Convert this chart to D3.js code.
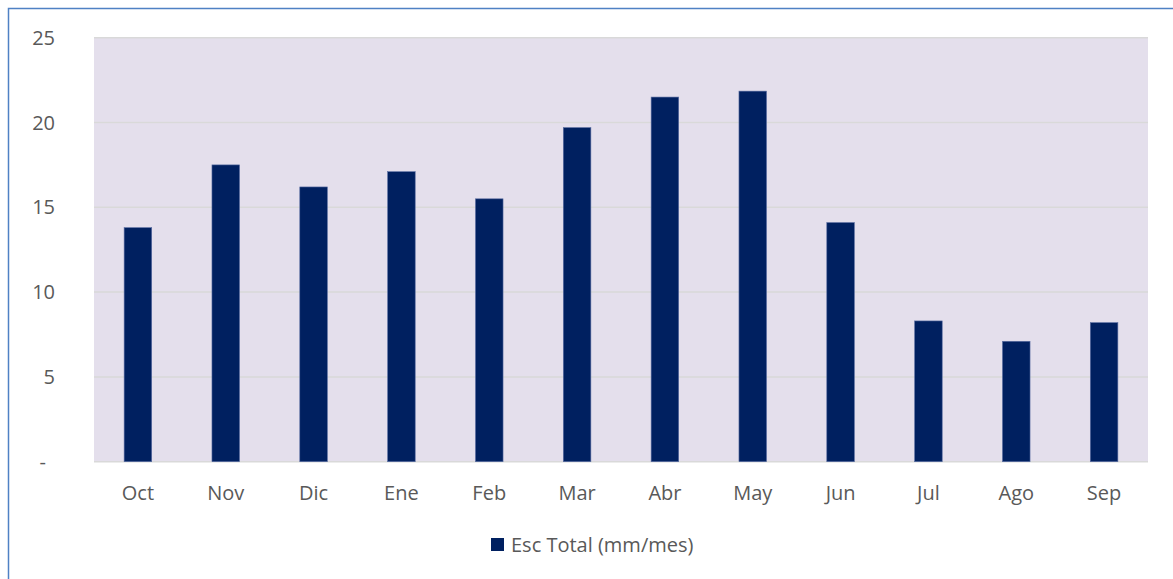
<!DOCTYPE html>
<html>
<head>
<meta charset="utf-8">
<script src="https://cdn.jsdelivr.net/npm/d3@7"></script>
<style>
  body { margin: 0; background: #fff; }
  svg text { font-family: "Open Sans", "Liberation Sans", sans-serif; }
</style>
</head>
<body>
<svg id="chart"></svg>
<script>
var months = ['Oct', 'Nov', 'Dic', 'Ene', 'Feb', 'Mar', 'Abr', 'May', 'Jun', 'Jul', 'Ago', 'Sep'];
var escTotal = [13.8, 17.5, 16.2, 17.1, 15.5, 19.7, 21.5, 21.85, 14.1, 8.3, 7.1, 8.2];
var yTicks = [0, 5, 10, 15, 20, 25];
var seriesName = 'Esc Total (mm/mes)';

var width = 1173;
var height = 579;
var plot = {left: 94, right: 1148, top: 37.7, bottom: 461.7};

var svg = d3.select('#chart')
    .attr('width', width)
    .attr('height', height);

// outer frame
svg.append('rect')
    .attr('x', 8.5)
    .attr('y', 8.5)
    .attr('width', width)
    .attr('height', height)
    .attr('fill', 'none')
    .attr('stroke', '#4f81c4')
    .attr('stroke-width', 1.5);

var x = d3.scaleBand()
    .domain(months)
    .range([plot.left, plot.right])
    .paddingInner(0.686)
    .paddingOuter(0.343);

var y = d3.scaleLinear()
    .domain([0, 25])
    .range([plot.bottom, plot.top]);

svg.append('rect')
    .attr('x', plot.left)
    .attr('y', plot.top)
    .attr('width', plot.right - plot.left)
    .attr('height', plot.bottom - plot.top)
    .attr('fill', '#e4dfec');

svg.append('g')
    .selectAll('line')
    .data(yTicks)
    .enter()
    .append('line')
    .attr('x1', plot.left)
    .attr('x2', plot.right)
    .attr('y1', d => y(d))
    .attr('y2', d => y(d))
    .attr('stroke', '#d9d9d9')
    .attr('stroke-width', 1.5);

svg.append('g')
    .selectAll('rect')
    .data(escTotal)
    .enter()
    .append('rect')
    .attr('x', (d, i) => x(months[i]))
    .attr('y', d => y(d))
    .attr('width', x.bandwidth())
    .attr('height', d => y(0) - y(d))
    .attr('fill', '#002060')
    .attr('stroke', '#5b6fa3')
    .attr('stroke-width', 0.6);

// y axis labels
var yAxis = d3.axisLeft(y)
    .tickValues(yTicks)
    .tickSize(0)
    .tickPadding(0)
    .tickFormat(d => d === 0 ? '-' : d);

var gy = svg.append('g')
    .attr('transform', 'translate(55,0)')
    .call(yAxis);
gy.select('.domain').remove();
gy.selectAll('text')
    .style('font-size', '20px')
    .style('fill', '#595959')
    .attr('dy', '0.33em');
gy.selectAll('.tick')
    .filter(d => d === 0)
    .select('text')
    .attr('x', -9);

// x axis labels
var xAxis = d3.axisBottom(x).tickSize(0).tickPadding(0);
var gx = svg.append('g')
    .attr('transform', `translate(0, ${plot.bottom})`)
    .call(xAxis);
gx.select('.domain').remove();
gx.selectAll('text')
    .attr('y', 38)
    .attr('dy', 0)
    .style('font-size', '20px')
    .style('fill', '#595959');

// legend
var legend = svg.append('g')
    .attr('transform', 'translate(491, 538)');
legend.append('rect')
    .attr('width', 13)
    .attr('height', 13)
    .attr('fill', '#002060');
legend.append('text')
    .attr('x', 20)
    .attr('y', 14)
    .text(seriesName)
    .style('font-size', '20px')
    .style('fill', '#595959');
</script>
</body>
</html>
